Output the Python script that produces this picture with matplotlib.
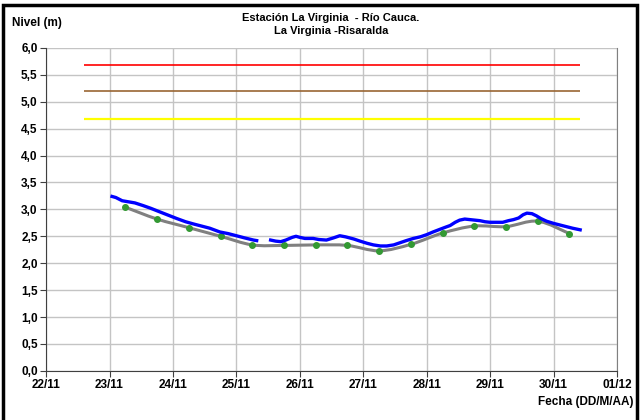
import matplotlib
matplotlib.use("Agg")
import matplotlib.pyplot as plt
from matplotlib.path import Path
from matplotlib.patches import PathPatch, Rectangle
from matplotlib.ticker import FuncFormatter

plt.rcParams['font.family'] = ['Liberation Sans', 'DejaVu Sans']
plt.rcParams['font.weight'] = 'bold'

# time axis: days from 22/11 00:00
tick_days = [0, 1, 2, 3, 4, 5, 6, 7, 8, 9]
tick_labels = ["22/11", "23/11", "24/11", "25/11", "26/11", "27/11",
               "28/11", "29/11", "30/11", "01/12"]

# alert levels (m)
alert_start, alert_end = 0.59, 8.42
alert_red = 5.69
alert_brown = 5.19
alert_yellow = 4.68

# measured level, blue (two stretches with a gap on 25/11)
blue_t1 = [1.04, 1.10, 1.20, 1.30, 1.40, 1.53, 1.65, 1.80, 1.93, 2.06, 2.20,
           2.32, 2.45, 2.58, 2.74, 2.87, 3.00, 3.13, 3.27, 3.32]
blue_v1 = [3.24, 3.22, 3.16, 3.14, 3.12, 3.07, 3.02, 2.95, 2.89, 2.83, 2.77,
           2.73, 2.69, 2.65, 2.58, 2.55, 2.51, 2.47, 2.43, 2.42]
blue_t2 = [3.54, 3.62, 3.70, 3.78, 3.88, 3.94, 4.00, 4.08, 4.21, 4.30, 4.42,
           4.53, 4.63, 4.72, 4.85, 4.95, 5.06, 5.16, 5.27, 5.37, 5.48, 5.58,
           5.68, 5.79, 5.90, 6.00, 6.10, 6.21, 6.30, 6.37, 6.45, 6.52, 6.60,
           6.68, 6.76, 6.84, 6.92, 7.00, 7.10, 7.20, 7.29, 7.37, 7.45, 7.52,
           7.58, 7.66, 7.73, 7.80, 7.89, 8.00, 8.10, 8.20, 8.30, 8.42]
blue_v2 = [2.43, 2.41, 2.40, 2.43, 2.48, 2.50, 2.48, 2.46, 2.46, 2.44, 2.43,
           2.47, 2.51, 2.49, 2.45, 2.41, 2.37, 2.34, 2.32, 2.32, 2.34, 2.38,
           2.42, 2.46, 2.49, 2.53, 2.58, 2.63, 2.67, 2.70, 2.76, 2.80, 2.82,
           2.81, 2.80, 2.79, 2.77, 2.76, 2.76, 2.76, 2.79, 2.81, 2.84, 2.90,
           2.93, 2.92, 2.88, 2.83, 2.78, 2.74, 2.71, 2.68, 2.65, 2.62]

# twice-daily readings (06:00 / 18:00)
read_t = [1.25, 1.75, 2.25, 2.75, 3.25, 3.75, 4.25, 4.75, 5.25, 5.75,
          6.25, 6.75, 7.25, 7.75, 8.25]
read_v = [3.04, 2.82, 2.66, 2.50, 2.34, 2.33, 2.34, 2.33, 2.23, 2.35,
          2.56, 2.69, 2.68, 2.78, 2.55]


def smooth_path(xs, ys, k=1 / 6):
    # Excel-like smoothed line: cubic bezier through the points
    verts = [(xs[0], ys[0])]
    codes = [Path.MOVETO]
    n = len(xs)
    for i in range(n - 1):
        x0, y0 = xs[max(i - 1, 0)], ys[max(i - 1, 0)]
        x1, y1 = xs[i], ys[i]
        x2, y2 = xs[i + 1], ys[i + 1]
        x3, y3 = xs[min(i + 2, n - 1)], ys[min(i + 2, n - 1)]
        verts += [(x1 + (x2 - x0) * k, y1 + (y2 - y0) * k),
                  (x2 - (x3 - x1) * k, y2 - (y3 - y1) * k),
                  (x2, y2)]
        codes += [Path.CURVE4] * 3
    return Path(verts, codes)


fig = plt.figure(figsize=(6.4, 4.2), dpi=100)
ax = fig.add_axes([0.072, 0.117, 0.892, 0.769])

ax.set_xlim(0, 9)
ax.set_ylim(0, 6)
ax.set_xticks(tick_days)
ax.set_xticklabels(tick_labels)
ax.set_yticks([i * 0.5 for i in range(13)])
ax.yaxis.set_major_formatter(FuncFormatter(lambda v, p: f"{v:.1f}".replace(".", ",")))
ax.tick_params(labelsize=8.5, length=4, width=0.8, color="#404040", pad=2)
ax.grid(True, color="#c4c4c4", linewidth=1.0)
ax.set_axisbelow(True)
ax.spines["top"].set_visible(False)
ax.spines["right"].set_color("#808080")
ax.spines["left"].set_color("#404040")
ax.spines["bottom"].set_color("#404040")

ax.hlines(alert_red, alert_start, alert_end, color="#ff0000", linewidth=1.2)
ax.hlines(alert_brown, alert_start, alert_end, color="#996633", linewidth=1.2)
ax.hlines(alert_yellow, alert_start, alert_end, color="#ffff00", linewidth=1.6)

ax.add_patch(PathPatch(smooth_path(read_t, read_v), facecolor="none",
                       edgecolor="#808080", linewidth=2.2, zorder=3))
ax.plot(read_t, read_v, linestyle="none", marker="o", markersize=4,
        color="#339933", zorder=4)

ax.plot(blue_t1, blue_v1, color="#0000ff", linewidth=2.4, zorder=5)
ax.plot(blue_t2, blue_v2, color="#0000ff", linewidth=2.4, zorder=5)

fig.text(0.517, 0.942, "Estación La Virginia  - Río Cauca.\nLa Virginia -Risaralda",
         ha="center", va="center", fontsize=8, fontweight="bold", linespacing=1.35)
fig.text(0.018, 0.945, "Nivel (m)", ha="left", va="center", fontsize=8.5, fontweight="bold")
fig.text(0.99, 0.043, "Fecha (DD/M/AA)", ha="right", va="center", fontsize=8.5, fontweight="bold")

fig.add_artist(Rectangle((0.004, -0.02), 0.992, 1.008, transform=fig.transFigure,
                         fill=False, edgecolor="black", linewidth=2.5, clip_on=False))

fig.savefig("out.png", dpi=100)
